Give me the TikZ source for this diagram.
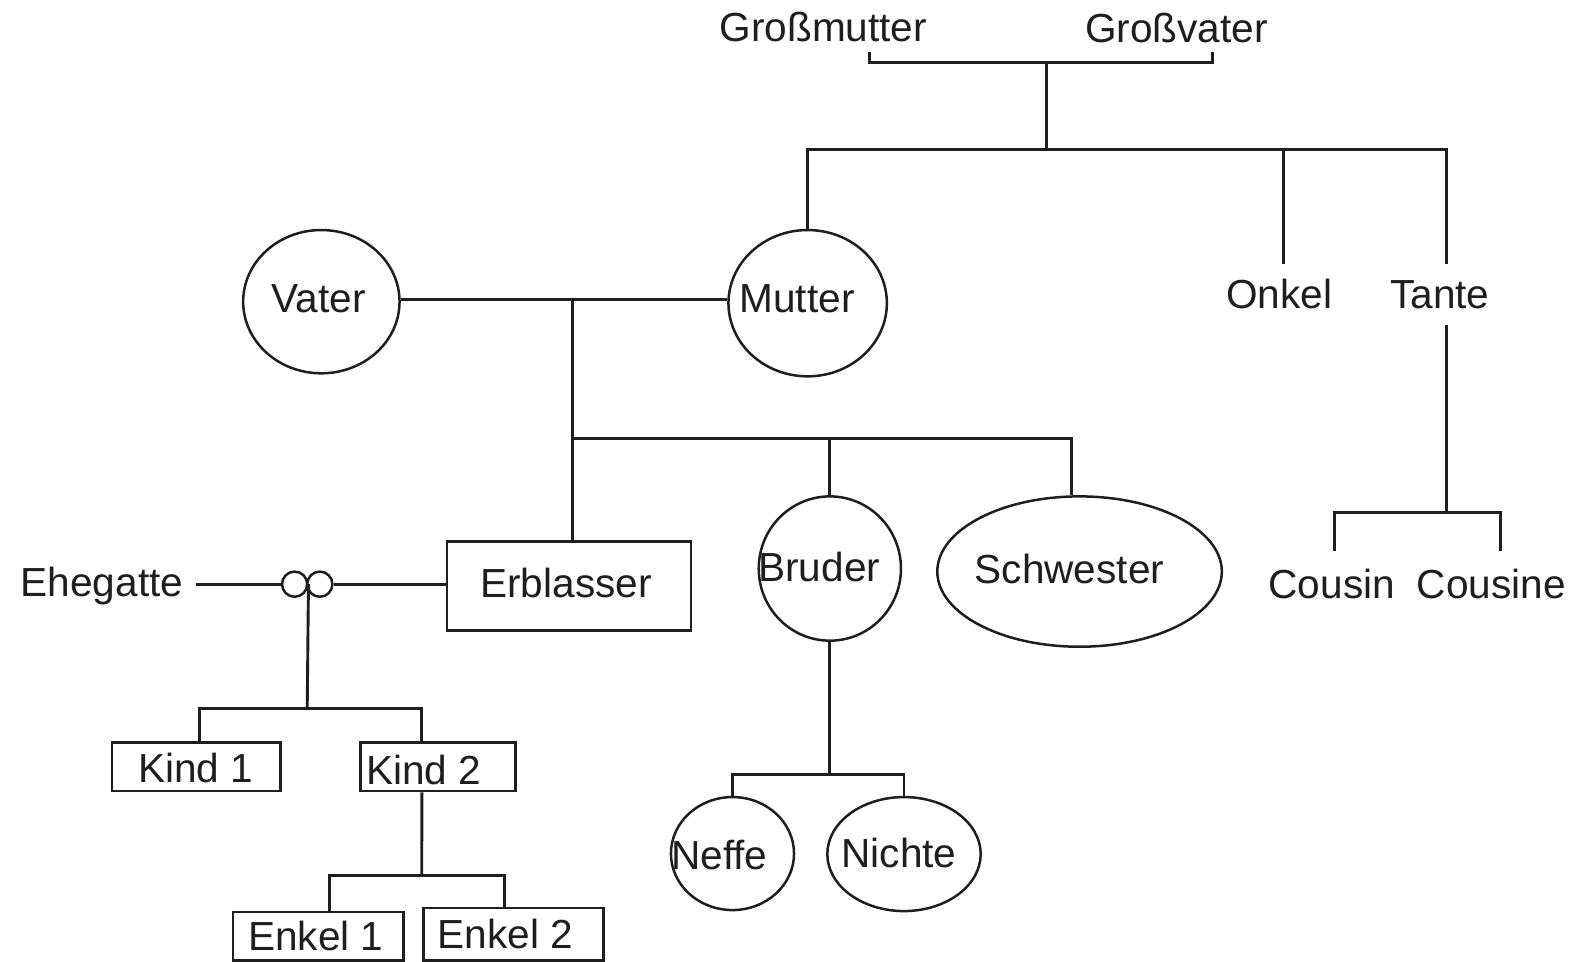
\documentclass[tikz,border=0pt]{standalone}
\usepackage{fontspec}
\setmainfont{Liberation Sans}
\usetikzlibrary{shapes.geometric}
\definecolor{ink}{RGB}{30,30,30}
\tikzset{
  lbl/.style={inner sep=0pt, text height=14.3pt, text depth=0pt, text=ink,
              font=\fontsize{20.3}{23}\selectfont},
  ell/.style 2 args={draw=ink, ellipse, inner sep=0pt, line width=1.25pt,
              minimum width={#1*1.009pt}, minimum height={#2*1.009pt}},
  box/.style 2 args={draw=ink, rectangle, inner sep=0pt, line width=1.35pt,
              minimum width={#1*1.009pt}, minimum height={#2*1.009pt}},
  ring/.style={draw=ink, circle, inner sep=0pt, line width=1.25pt, minimum size=12.6pt},
  conn/.style={draw=ink, line width=1.45pt}
}
\begin{document}
\begin{tikzpicture}[x=0.5045pt,y=-0.5045pt]
\useasboundingbox (0,0) rectangle (1567,952.5);

% ---- shapes ----
\node[ell={77.5}{71}]   (vater)     at (318.5,299) {};
\node[ell={78.5}{72.5}] (mutter)    at (800.5,300.5) {};
\node[ell={70.5}{71.5}] (bruder)    at (822.5,563.5) {};
\node[ell={141}{74.5}]  (schwester) at (1070,566.5) {};
\node[ell={61}{56}]     (neffe)     at (726,846) {};
\node[ell={76}{56.5}]   (nichte)    at (896,846.5) {};
\node[box={121}{44}]    (erblasser) at (564,581) {};
\node[box={83.5}{24}]   (kind1)     at (194.5,760) {};
\node[box={77}{24}]     (kind2)     at (434,760) {};
\node[box={84.5}{24}]   (enkel1)    at (315.5,928) {};
\node[box={89}{26}]     (enkel2)    at (509,926) {};
\node[ring] (m1) at (292,579) {};
\node[ring] (m2) at (317,579) {};

% ---- texts ----
\node[lbl] (tGm)   at (816,27)   {Großmutter};
\node[lbl] (tGv)   at (1166,28)  {Großvater};
\node[lbl] (tVa)   at (316,296)  {Vater};
\node[lbl] (tMu)   at (790,296)  {Mutter};
\node[lbl] (tOn)   at (1268,292) {Onkel};
\node[lbl] (tTa)   at (1427,292) {Tante};
\node[lbl] (tEr)   at (561,578)  {Erblasser};
\node[lbl] (tBr)   at (812,562)  {Bruder};
\node[lbl] (tSw)   at (1060,564) {Schwester};
\node[lbl] (tEh)   at (101,577)  {Ehegatte};
\node[lbl] (tCo)   at (1320,579) {Cousin};
\node[lbl] (tCe)   at (1478,579) {Cousine};
\node[lbl] (tK1)   at (194,761)  {Kind 1};
\node[lbl] (tK2)   at (420,763)  {Kind 2};
\node[lbl] (tNe)   at (713,848)  {Neffe};
\node[lbl] (tNi)   at (891,846)  {Nichte};
\node[lbl] (tE1)   at (313,928)  {Enkel 1};
\node[lbl] (tE2)   at (501,926)  {Enkel 2};

% ---- junction coordinates ----
\coordinate (gm) at (862,52);
\coordinate (gv) at (1202,52);
\coordinate (gj) at (1037,62);
\coordinate (gk) at (1037,148);
\coordinate (onkelTop) at (1272,262);
\coordinate (tanteTop) at (1434,262);
\coordinate (tanteBot) at (1434,322);
\coordinate (cj) at (1434,508);
\coordinate (cousinTop) at (1323,546);
\coordinate (cousineTop) at (1487,546);
\coordinate (pj) at (567,297);
\coordinate (sj) at (567,435);
\coordinate (nj) at (820,768);
\coordinate (kj) at (304.5,702);
\coordinate (ej) at (418,868);

% ---- connectors ----
\draw[conn] (gm) |- (gj) -| (gv);
\draw[conn] (gj) -- (gk);
\draw[conn] (mutter.north) |- (gk) -| (tanteTop);
\draw[conn] (gk -| onkelTop) -- (onkelTop);
\draw[conn] (tanteBot) -- (cj);
\draw[conn] (cousinTop) |- (cj) -| (cousineTop);

\draw[conn] (pj -| vater.east) -- (pj -| mutter.west);
\draw[conn] (pj) -- (pj |- erblasser.north);
\draw[conn] (bruder.north) |- (sj);
\draw[conn] (sj) -| ([xshift=-4pt]schwester.north);
\draw[conn] (bruder.south) -- (bruder.south |- nj);
\draw[conn] (neffe.north) |- (nj) -| (nichte.north);

\draw[conn] ([xshift=6pt]tEh.east |- m1.west) -- (m1.west);
\draw[conn] (m2.east) -- (m2.east -| erblasser.west);
\draw[conn] (m1.east) -- (kj);
\draw[conn] ([xshift=1.75pt]kind1.north) |- (kj) -| ([xshift=-8pt]kind2.north);
\draw[conn] ([xshift=-8pt]kind2.south) -- (ej);
\draw[conn] ([xshift=5.75pt]enkel1.north) |- (ej) -| ([xshift=-4.5pt]enkel2.north);
\end{tikzpicture}
\end{document}
